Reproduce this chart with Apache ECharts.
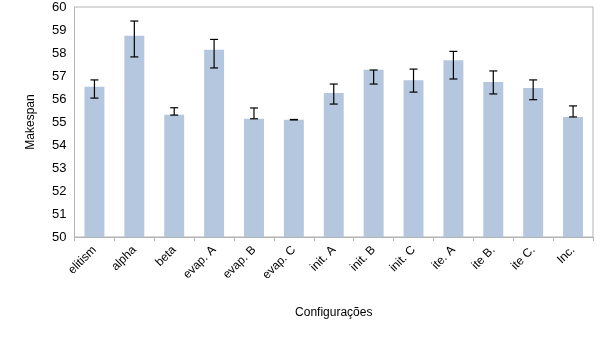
<!DOCTYPE html>
<html>
<head>
<meta charset="utf-8">
<script src="https://cdn.jsdelivr.net/npm/echarts@6/dist/echarts.min.js"></script>
<style>
  html, body { margin: 0; padding: 0; background: #fff; }
</style>
</head>
<body>
<div id="chart" style="width:605px;height:340px;"></div>
<script>
// categories and values
var configs = ['elitism', 'alpha', 'beta', 'evap. A', 'evap. B', 'evap. C', 'init. A', 'init. B', 'init. C', 'ite. A', 'ite B.', 'ite C.', 'Inc.'];
var makespan = [56.53, 58.75, 55.32, 58.14, 55.14, 55.10, 56.26, 57.27, 56.81, 57.68, 56.74, 56.48, 55.22];
var errLow = [56.04, 57.83, 55.30, 57.35, 55.14, 55.09, 55.78, 56.65, 56.30, 56.87, 56.22, 55.97, 55.22];
var errHigh = [56.83, 59.39, 55.62, 58.59, 55.61, 55.11, 56.65, 57.26, 57.30, 58.07, 57.22, 56.83, 55.70];
var yTicks = [50, 51, 52, 53, 54, 55, 56, 57, 58, 59, 60];

var errData = [];
for (var i = 0; i < configs.length; i++) {
  errData.push([i, errLow[i], errHigh[i]]);
}

var chart = echarts.init(document.getElementById('chart'));
var axisGray = '#b3b3b3';
var font = 'Liberation Sans, Arial, sans-serif';

var option = {
  animation: false,
  grid: {
    left: 74.5,
    right: 12,
    top: 7,
    bottom: 103,
    show: true,
    borderColor: axisGray,
    borderWidth: 1,
    backgroundColor: 'transparent'
  },
  xAxis: {
    type: 'category',
    data: configs,
    name: 'Configurações',
    nameLocation: 'middle',
    nameGap: 70,
    nameTextStyle: { color: '#000', fontSize: 12, fontFamily: font },
    axisLine: { lineStyle: { color: axisGray } },
    axisTick: { show: true, length: 4, lineStyle: { color: axisGray } },
    axisLabel: { rotate: 45, color: '#000', fontSize: 12, fontFamily: font, margin: 11, interval: 0 }
  },
  yAxis: {
    type: 'value',
    min: yTicks[0],
    max: yTicks[yTicks.length - 1],
    interval: 1,
    name: 'Makespan',
    nameLocation: 'middle',
    nameGap: 38,
    nameTextStyle: { color: '#000', fontSize: 12, fontFamily: font },
    axisLine: { show: true, lineStyle: { color: axisGray } },
    axisTick: { show: false },
    splitLine: { show: false },
    axisLabel: { color: '#000', fontSize: 13, fontFamily: font, margin: 8 }
  },
  series: [
    {
      type: 'bar',
      data: makespan,
      barWidth: '50%',
      itemStyle: { color: '#b4c7de' }
    },
    {
      type: 'custom',
      data: errData,
      z: 10,
      renderItem: function (params, api) {
        var x = api.value(0);
        var lo = api.coord([x, api.value(1)]);
        var hi = api.coord([x, api.value(2)]);
        var w = 4;
        var st = { stroke: '#000', lineWidth: 1.2 };
        return {
          type: 'group',
          children: [
            { type: 'line', shape: { x1: hi[0], y1: hi[1], x2: lo[0], y2: lo[1] }, style: st },
            { type: 'line', shape: { x1: hi[0] - w, y1: hi[1], x2: hi[0] + w, y2: hi[1] }, style: st },
            { type: 'line', shape: { x1: lo[0] - w, y1: lo[1], x2: lo[0] + w, y2: lo[1] }, style: st }
          ]
        };
      }
    }
  ]
};

option && chart.setOption(option);
</script>
</body>
</html>
